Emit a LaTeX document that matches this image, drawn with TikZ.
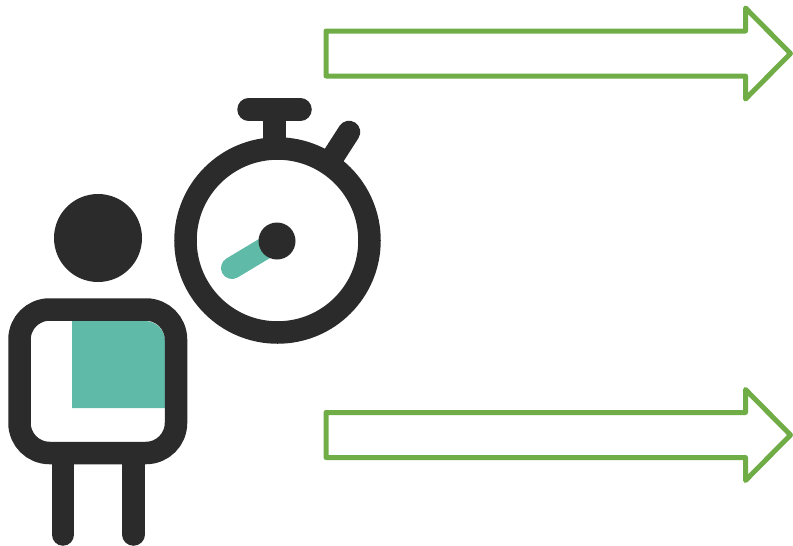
\documentclass[tikz,border=0pt]{standalone}
\definecolor{inkdark}{HTML}{2B2B2B}
\definecolor{tealfill}{HTML}{5FBBA7}
\definecolor{arrowgreen}{HTML}{70AD47}
\tikzset{
  darkline/.style={draw=inkdark,line width=22.5pt,line cap=round},
  darkring/.style={draw=inkdark,line width=22.5pt},
  darkfill/.style={fill=inkdark,draw=none},
  tealarea/.style={fill=tealfill,draw=none},
  tealhand/.style={draw=tealfill,line width=22pt,line cap=round},
  blockarrow/.style={draw=arrowgreen,line width=5pt,line join=round,fill=white}
}
\begin{document}
\begin{tikzpicture}[x=1pt,y=-1pt]
\useasboundingbox (0,0) rectangle (793,546);
\fill[white] (0,0) rectangle (793,546);
% arrows
\draw[blockarrow] (326,31) -- (745.5,31) -- (745.5,8) -- (790.5,53.5) -- (745.5,99) -- (745.5,76) -- (326,76) -- cycle;
\draw[blockarrow] (326,412.5) -- (745.5,412.5) -- (745.5,389.5) -- (790.5,435) -- (745.5,480.5) -- (745.5,457.5) -- (326,457.5) -- cycle;
% person
\draw[darkline] (63,455) -- (63,534.5);
\draw[darkline] (133.5,455) -- (133.5,534.5);
\fill[tealarea] (72,321) -- (145,321) arc[start angle=-90,end angle=0,radius=20] -- (165,408) -- (72,408) -- cycle;
\draw[darkring,rounded corners=30pt] (19.5,309.5) rectangle (176,453);
\fill[darkfill] (98,238) circle[radius=44];
% stopwatch
\draw[tealhand] (232,268) -- (277,241);
\draw[darkring] (277.5,240.5) circle[radius=92];
\fill[darkfill] (277,241) circle[radius=18.5];
\draw[darkring] (274.5,115) -- (274.5,150);
\draw[darkline] (248.5,109.5) -- (300.5,109.5);
\draw[darkline] (349,132) -- (331,160);
\end{tikzpicture}
\end{document}
